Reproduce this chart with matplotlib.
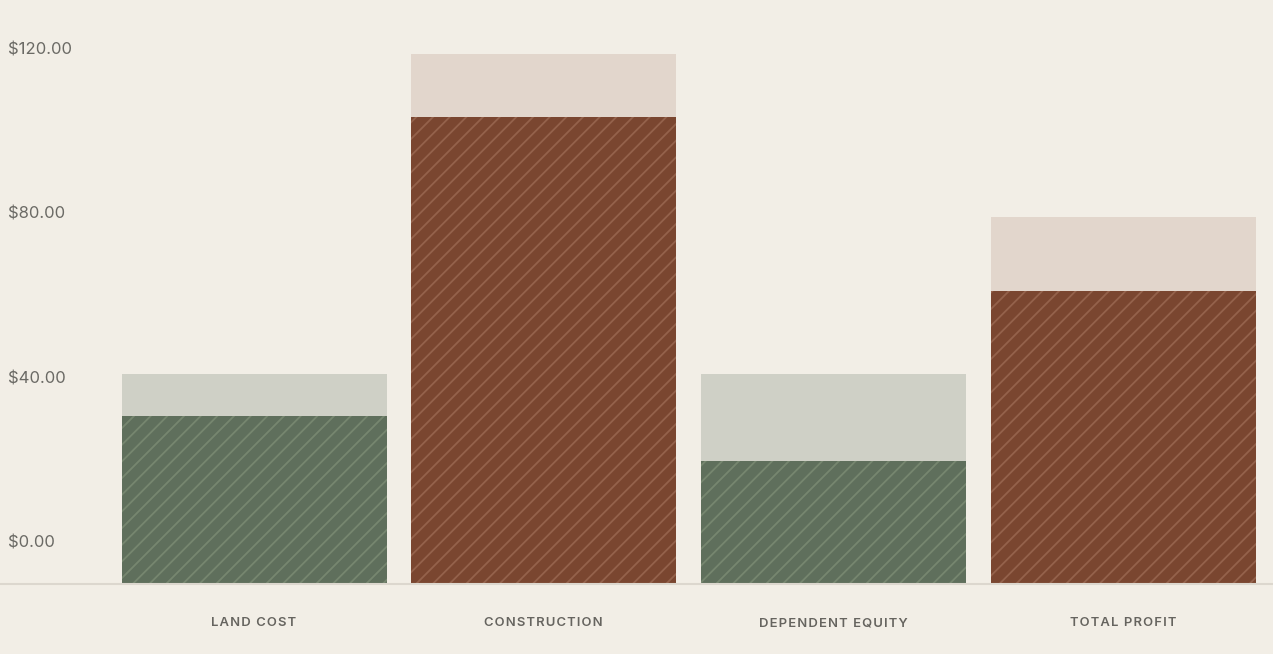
import numpy as np
import matplotlib
matplotlib.use("Agg")
import matplotlib.pyplot as plt
from matplotlib import transforms

# ==============================
# DADOS
# ==============================
categorias = ["LAND COST", "CONSTRUCTION", "DEPENDENT EQUITY", "TOTAL PROFIT"]
totais = [40.7, 118.6, 40.7, 78.8]
realizado = [30.5, 103.3, 19.5, 60.8]
ticks = [0, 40, 80, 120]
tick_labels = ["$0.00", "$40.00", "$80.00", "$120.00"]

# ==============================
# ESTILO
# ==============================
FUNDO = "#f2eee6"
CLARO = ["#cfd0c6", "#e2d6cc", "#cfd0c6", "#e2d6cc"]
ESCURO = ["#5f6f5c", "#7a4630", "#5f6f5c", "#7a4630"]
HACHURA = ["#76866f", "#94624b", "#76866f", "#94624b"]
Y_MIN = -10.2
Y_MAX = 131.7
PASSO = 289.7  # pixels entre categorias

plt.rcParams["font.family"] = ["Inter", "DejaVu Sans"]
plt.rcParams["hatch.linewidth"] = 1.3

fig = plt.figure(figsize=(12.73, 6.54), dpi=100, facecolor=FUNDO)
ax = fig.add_axes([0, 1 - 583 / 654, 1, 583 / 654])
ax.set_facecolor(FUNDO)

x = np.arange(len(categorias))
largura = 265 / PASSO

# barras de fundo (total) e barras hachuradas (realizado)
ax.bar(x, np.array(totais) - Y_MIN, bottom=Y_MIN, width=largura,
       color=CLARO, linewidth=0)
for xi, v, cor, hc in zip(x, realizado, ESCURO, HACHURA):
    ax.bar(xi, v - Y_MIN, bottom=Y_MIN, width=largura, color=cor,
           edgecolor=hc, hatch="//", linewidth=0)

ax.set_xlim(-254 / PASSO, (1273 - 254) / PASSO)
ax.set_ylim(Y_MIN, Y_MAX)
ax.set_xticks([])
ax.set_yticks([])
for s in ax.spines.values():
    s.set_visible(False)

# linha de base
fig.add_artist(plt.Line2D([0, 1], [1 - 583.5 / 654] * 2, color="#dcd7ce",
                          lw=1.5, transform=fig.transFigure))

# rótulos do eixo y
for t, lab in zip(ticks, tick_labels):
    ax.text(-246 / PASSO, t - 0.5, lab, ha="left", va="center", fontsize=12,
            color="#6b6a65")

# rótulos das categorias (com espaçamento entre letras)
trans = transforms.blended_transform_factory(ax.transData, fig.transFigure)
for xi, cat in zip(x, categorias):
    espacado = "\u200a".join(cat)
    ax.text(xi, 1 - 623.5 / 654, espacado, ha="center", va="center",
            fontsize=9.4, fontweight="semibold", color="#66645f",
            transform=trans, clip_on=False)

fig.savefig("out.png", dpi=100, facecolor=FUNDO)
